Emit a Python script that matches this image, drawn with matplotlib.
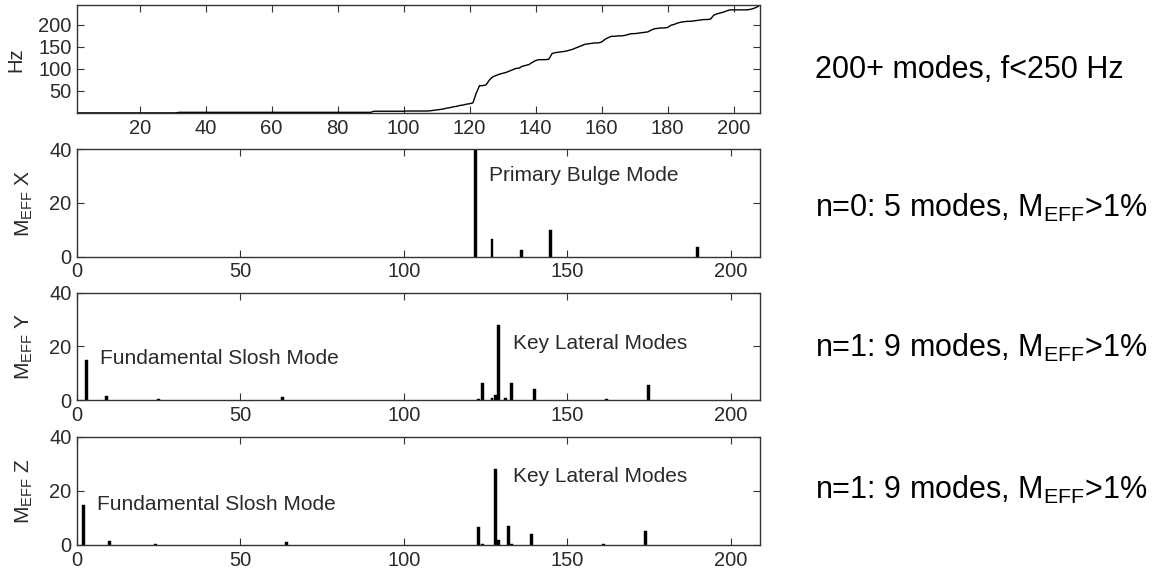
import matplotlib
matplotlib.use("Agg")
import matplotlib.pyplot as plt

plt.rcParams['font.family'] = ['Liberation Sans', 'DejaVu Sans']
plt.rcParams['mathtext.fontset'] = 'custom'
plt.rcParams['mathtext.rm'] = 'Liberation Sans'

# Natural frequency (Hz) of each mode, modes 1..208
freq_hz = [
    0.3, 0.3, 0.3, 0.3, 0.3, 0.3, 0.3, 0.3, 0.3, 0.3, 0.3, 0.3, 0.3, 0.3, 0.3, 0.3,
    0.3, 0.3, 0.3, 0.3, 0.3, 0.3, 0.3, 0.3, 0.3, 0.3, 0.3, 0.3, 0.3, 0.3, 0.3,
    1.5, 1.5, 1.5, 1.5, 1.5, 1.5, 1.5, 1.5, 1.5, 1.5, 1.5, 1.5, 1.5, 1.5, 1.5,
    1.5, 1.5, 1.5, 1.5, 1.5, 1.5, 1.5, 1.5, 1.5, 1.5, 1.5, 1.5, 1.5, 1.5, 1.5,
    1.5, 1.5, 1.5, 1.5, 1.5, 1.5, 1.5, 1.5, 1.5, 1.5, 1.5, 1.5, 1.5, 1.5, 1.5,
    1.5, 1.5, 1.5, 1.5, 1.5, 1.5, 1.5, 1.5, 1.5, 1.5, 1.5, 1.5, 1.5, 1.5,
    4.0, 4.0, 4.0, 4.0, 4.0, 4.0, 4.0, 4.0, 4.0, 4.0,
    4.5, 4.5, 4.5, 4.5, 4.5, 4.5, 4.5,
    5, 6, 7, 8, 9, 11, 12, 14, 15, 17, 18, 20, 21, 23,
    45, 62, 62, 64, 75, 82, 85, 88, 90, 92, 95, 98, 101, 102, 106, 108,
    110, 115, 119, 121, 121, 121, 122, 135, 137, 138, 139, 140, 142, 144,
    147, 150, 153, 156, 157, 158, 159, 159, 161, 167, 171, 174, 174, 175,
    175, 176, 178, 180, 180, 181, 182, 183, 184, 188, 191, 192, 193, 193,
    194, 199, 201, 204, 206, 207, 208, 208, 209, 210, 211, 212, 212, 213,
    222, 225, 227, 229, 232, 234, 234, 234, 234, 234, 234, 235, 237, 240, 245,
]
mode_num = list(range(1, len(freq_hz) + 1))

# Effective mass fraction (%) per mode, by direction
modes_x = [122, 127, 136, 145, 190]
meff_x = [48, 6.6, 2.5, 9.9, 3.5]

modes_y = [3, 9, 25, 63, 123, 124, 127, 128, 129, 131, 133, 140, 162, 175]
meff_y = [15, 1.6, 0.5, 1.1, 0.5, 6.5, 0.8, 2.0, 28, 0.8, 6.5, 4.1, 0.3, 5.6]

modes_z = [2, 10, 24, 64, 123, 124, 128, 129, 132, 133, 139, 161, 174]
meff_z = [14.8, 1.4, 0.4, 1.1, 6.5, 0.4, 28, 2.0, 7.0, 0.4, 4.0, 0.3, 5.2]

side_notes = [
    "200+ modes, f<250 Hz",
    "n=0: 5 modes, M$_{\\mathregular{EFF}}$>1%",
    "n=1: 9 modes, M$_{\\mathregular{EFF}}$>1%",
    "n=1: 9 modes, M$_{\\mathregular{EFF}}$>1%",
]

W, H = 1153, 575
fig = plt.figure(figsize=(W / 100, H / 100), dpi=100)

def box(top, bottom):
    return [77 / W, 1 - bottom / H, (760 - 77) / W, (bottom - top) / H]

ink = '#2a2a2a'

def style(ax):
    for s in ax.spines.values():
        s.set_color('#333333')
        s.set_linewidth(1.0)
    ax.tick_params(direction='in', length=5, width=0.8, color='#333333',
                   top=True, right=True, labelsize=14.5, labelcolor=ink, pad=4)

ax0 = fig.add_axes(box(5, 113))
ax0.plot(mode_num, freq_hz, color='black', lw=1.0)
ax0.set_xlim(1, 208)
ax0.set_ylim(0, 245)
ax0.set_xticks(range(20, 201, 20))
ax0.set_yticks([50, 100, 150, 200])
style(ax0)
ax0.set_ylabel('Hz', fontsize=14.5, color=ink)
ax0.yaxis.set_label_coords(-0.076, 0.49)

panels = [
    (box(149.3, 256.7), modes_x, meff_x, 'X',
     [("Primary Bulge Mode", 126, 30.4)]),
    (box(292.7, 400), modes_y, meff_y, 'Y',
     [("Fundamental Slosh Mode", 7, 15.3), ("Key Lateral Modes", 133.5, 21.2)]),
    (box(436.7, 545), modes_z, meff_z, 'Z',
     [("Fundamental Slosh Mode", 6, 14.8), ("Key Lateral Modes", 133.5, 25.2)]),
]

for rect, modes, vals, axis_name, notes in panels:
    ax = fig.add_axes(rect)
    ax.bar(modes, vals, width=0.9, color='black', edgecolor='black', linewidth=0.3)
    ax.set_xlim(0, 209)
    ax.set_ylim(0, 40)
    ax.set_xticks([0, 50, 100, 150, 200])
    ax.set_yticks([0, 20, 40])
    style(ax)
    ax.set_ylabel('M$_{\\mathregular{EFF}}$ ' + axis_name, fontsize=15, color=ink)
    ax.yaxis.set_label_coords(-0.062, 0.5)
    for text, x, y in notes:
        ax.text(x, y, text, fontsize=15, color='#2a2a2a', va='center', ha='left')

note_y = [70, 208, 348, 490]
for text, y in zip(side_notes, note_y):
    fig.text(815 / W, 1 - y / H, text, fontsize=22, color='black',
             va='center', ha='left')

fig.savefig('out.png', dpi=100)
